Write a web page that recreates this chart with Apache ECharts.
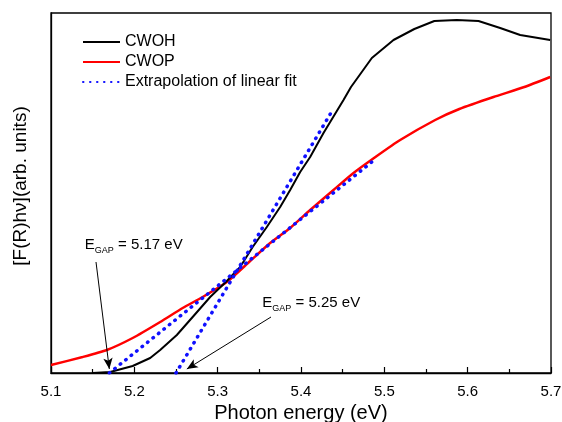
<!DOCTYPE html>
<html>
<head>
<meta charset="utf-8">
<script src="https://cdn.jsdelivr.net/npm/echarts@6/dist/echarts.min.js"></script>
<style>
html,body{margin:0;padding:0;background:#fff;}
#chart{width:562px;height:422px;}
</style>
</head>
<body>
<div id="chart"></div>
<script>
// photon energy (eV) / intensity (arb. units)
var energyOH = [5.150,5.171,5.198,5.219,5.231,5.251,5.270,5.291,5.311,5.327,5.342,5.359,5.375,5.387,5.399,5.411,5.427,5.451,5.460,5.485,5.511,5.536,5.560,5.587,5.613,5.639,5.663,5.699];
var valueOH  = [0.00,0.01,0.07,0.15,0.23,0.38,0.56,0.76,0.92,1.06,1.26,1.46,1.66,1.83,2.01,2.16,2.40,2.73,2.86,3.15,3.33,3.44,3.52,3.53,3.52,3.45,3.38,3.33];
var energyOP = [5.100,5.138,5.167,5.198,5.231,5.258,5.282,5.311,5.339,5.363,5.387,5.411,5.439,5.463,5.491,5.519,5.561,5.590,5.631,5.668,5.699];
var valueOP  = [0.08,0.16,0.23,0.35,0.51,0.65,0.76,0.91,1.12,1.30,1.45,1.63,1.83,2.00,2.17,2.33,2.53,2.64,2.76,2.86,2.96];
// linear fit extrapolations (end points)
var fitOHx = [5.25,5.438];
var fitOHy = [0,2.63];
var fitOPx = [5.17,5.485];
var fitOPy = [0,2.11];
var xTicks = {min:5.1,max:5.7,step:0.1};

function pairs(xs,ys){
  var out=[];
  for(var i=0;i<xs.length;i++){out.push([xs[i],ys[i]]);}
  return out;
}

var font='"Liberation Sans", Arial, sans-serif';
var myChart=echarts.init(document.getElementById('chart'));

var gapLabel=function(txt){
  return {
    show:true,position:'right',distance:0,
    formatter:'{e|E}{s|GAP}{e| = '+txt+'}',
    rich:{
      e:{fontSize:15,fontFamily:font,color:'#000',lineHeight:20},
      s:{fontSize:9,fontFamily:font,color:'#000',padding:[11,0,0,0],lineHeight:20}
    }
  };
};

var blueLine={color:'#1010ff',width:3.5,type:[0.5,6.5],cap:'round'};

var option={
  animation:false,
  backgroundColor:'#fff',
  grid:{left:51,right:11,top:13,bottom:49,outerBoundsMode:'none',containLabel:false,
    show:true,borderColor:'#000',borderWidth:1.3,backgroundColor:'transparent'},
  legend:{
    orient:'vertical',left:77,top:29,itemWidth:37,itemHeight:14,itemGap:4,
    itemStyle:{opacity:0},
    textStyle:{fontSize:16,fontFamily:font,color:'#000'},
    data:['CWOH','CWOP','Extrapolation of linear fit']
  },
  xAxis:{
    type:'value',min:xTicks.min,max:xTicks.max,interval:xTicks.step,
    name:'Photon energy (eV)',nameLocation:'middle',nameGap:24,
    nameTextStyle:{fontSize:20,fontFamily:font,color:'#000'},
    axisLine:{lineStyle:{color:'#000',width:1.3}},
    axisTick:{inside:true,length:6,lineStyle:{color:'#000',width:1.2}},
    minorTick:{show:true,splitNumber:2,length:4,lineStyle:{color:'#000',width:1.2}},
    splitLine:{show:false},
    axisLabel:{fontSize:15,fontFamily:font,color:'#000',margin:11,formatter:function(v){return v.toFixed(1);}}
  },
  yAxis:{
    type:'value',min:0,max:3.6,
    name:'[F(R)hν](arb. units)',nameLocation:'middle',nameGap:21,
    nameTextStyle:{fontSize:19,fontFamily:font,color:'#000',padding:[0,0,0,14]},
    axisLine:{show:true,lineStyle:{color:'#000',width:1.3}},
    axisTick:{show:false},axisLabel:{show:false},splitLine:{show:false}
  },
  series:[
    {
      name:'CWOH',type:'line',showSymbol:false,symbol:'none',
      data:pairs(energyOH,valueOH),
      lineStyle:{color:'#000',width:2},itemStyle:{color:'#000'},
      z:3,
      markLine:{
        silent:true,symbol:['none','arrow'],symbolSize:[7,11],
        lineStyle:{color:'#000',width:1,type:'solid'},label:{show:false},
        data:[
          [{coord:[5.154,1.11]},{coord:[5.170,0.04]}],
          [{coord:[5.364,0.56]},{coord:[5.263,0.04]}]
        ]
      },
      markPoint:{
        silent:true,symbol:'circle',symbolSize:1,itemStyle:{color:'rgba(0,0,0,0)'},
        data:[
          {coord:[5.140,1.28],label:gapLabel('5.17 eV')},
          {coord:[5.353,0.70],label:gapLabel('5.25 eV')}
        ]
      }
    },
    {
      name:'CWOP',type:'line',showSymbol:false,symbol:'none',smooth:0.2,
      data:pairs(energyOP,valueOP),
      lineStyle:{color:'#ff0000',width:2.5},itemStyle:{color:'#ff0000'},
      z:2
    },
    {
      name:'Extrapolation of linear fit',type:'line',showSymbol:false,symbol:'none',
      data:pairs(fitOHx,fitOHy),
      lineStyle:blueLine,itemStyle:{color:'#1010ff'},z:4
    },
    {
      name:'Extrapolation of linear fit',type:'line',showSymbol:false,symbol:'none',
      data:pairs(fitOPx,fitOPy),
      lineStyle:blueLine,itemStyle:{color:'#1010ff'},z:4
    }
  ]
};
myChart.setOption(option);
window.addEventListener('resize',function(){myChart.resize();});
</script>
</body>
</html>
